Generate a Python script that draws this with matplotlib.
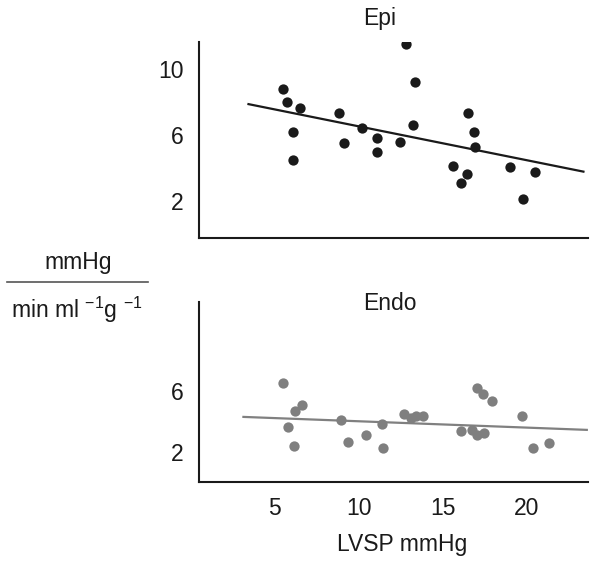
import numpy as np
import matplotlib.pyplot as plt

plt.rcParams['font.family'] = ['Liberation Sans', 'DejaVu Sans']
plt.rcParams['mathtext.fontset'] = 'custom'
plt.rcParams['mathtext.rm'] = 'Liberation Sans'
plt.rcParams['mathtext.it'] = 'Liberation Sans'

# Epi (top panel)
epi_x = [5.5, 5.75, 6.53, 6.09, 6.09, 8.81, 9.15, 10.2, 11.07, 11.07, 12.46, 12.8,
         13.37, 13.2, 15.6, 16.05, 16.43, 16.5, 16.85, 16.9, 19.0, 19.78, 20.48]
epi_y = [8.77, 8.02, 7.62, 6.18, 4.50, 7.31, 5.50, 6.40, 5.82, 4.97, 5.60, 11.5,
         9.23, 6.59, 4.14, 3.09, 3.64, 7.31, 6.18, 5.27, 4.08, 2.14, 3.76]
epi_fit = (-0.206, 8.59)        # slope, intercept
epi_fit_range = (3.45, 23.35)

# Endo (bottom panel)
endo_x = [5.48, 5.77, 6.23, 6.63, 6.15, 8.95, 9.38, 10.42, 11.41, 11.45, 12.68, 13.08,
          13.43, 13.83, 16.09, 16.7, 17.0, 17.44, 17.04, 17.36, 17.94, 19.68, 20.38, 21.29]
endo_y = [6.52, 3.59, 4.64, 5.04, 2.39, 4.05, 2.61, 3.11, 3.81, 2.22, 4.47, 4.21,
          4.30, 4.30, 3.33, 3.38, 3.05, 3.20, 6.18, 5.74, 5.30, 4.36, 2.26, 2.57]
endo_fit = (-0.0417, 4.40)
endo_fit_range = (3.15, 23.55)

x_ticks = [5, 10, 15, 20]
epi_ticks = [2, 6, 10]
endo_ticks = [2, 6]

FS = 16.5

fig = plt.figure(figsize=(5.90, 5.64), dpi=100)
ax1 = fig.add_axes([0.337, 0.578, 0.659, 0.3475])
ax2 = fig.add_axes([0.337, 0.1454, 0.659, 0.319])


def style(ax, yticks, show_x):
    for s in ['top', 'right']:
        ax.spines[s].set_visible(False)
    for s in ['left', 'bottom']:
        ax.spines[s].set_linewidth(1.5)
        ax.spines[s].set_color('#1a1a1a')
    ax.set_xlim(0.5, 23.6)
    ax.set_yticks(yticks)
    ax.set_yticklabels([str(t) for t in yticks])
    ax.tick_params(axis='both', length=0, labelsize=FS, colors='#1a1a1a', pad=11)
    if show_x:
        ax.set_xticks(x_ticks)
        ax.set_xticklabels([str(t) for t in x_ticks])
    else:
        ax.set_xticks([])


# top
ax1.scatter(epi_x, epi_y, s=55, color='#1a1a1a', zorder=3, linewidths=0)
xs = np.array(epi_fit_range)
ax1.plot(xs, epi_fit[0] * xs + epi_fit[1], color='#1a1a1a', lw=1.6)
ax1.set_ylim(-0.25, 11.65)
style(ax1, epi_ticks, False)

# bottom
ax2.scatter(endo_x, endo_y, s=55, color='#7f7f7f', zorder=3, linewidths=0)
xs = np.array(endo_fit_range)
ax2.plot(xs, endo_fit[0] * xs + endo_fit[1], color='#808080', lw=1.6)
ax2.set_ylim(0, 11.8)
style(ax2, endo_ticks, True)

fig.text(380 / 590, 1 - 18 / 564, 'Epi', ha='center', va='center', fontsize=FS, color='#1a1a1a')
fig.text(390 / 590, 1 - 303 / 564, 'Endo', ha='center', va='center', fontsize=FS, color='#1a1a1a')
fig.text(402 / 590, 1 - 545 / 564, 'LVSP mmHg', ha='center', va='center', fontsize=FS, color='#1a1a1a')

# y-axis unit as a fraction
fig.text(78 / 590, 1 - 262 / 564, 'mmHg', ha='center', va='center', fontsize=FS, color='#1a1a1a')
fig.add_artist(plt.Line2D([7 / 590, 148 / 590], [1 - 282 / 564, 1 - 282 / 564],
                          color='#555555', lw=1.2))
fig.text(77 / 590, 1 - 310 / 564, 'min ml $^{-1}$g $^{-1}$', ha='center', va='center',
         fontsize=FS, color='#1a1a1a')

fig.savefig('out.png', dpi=100)
